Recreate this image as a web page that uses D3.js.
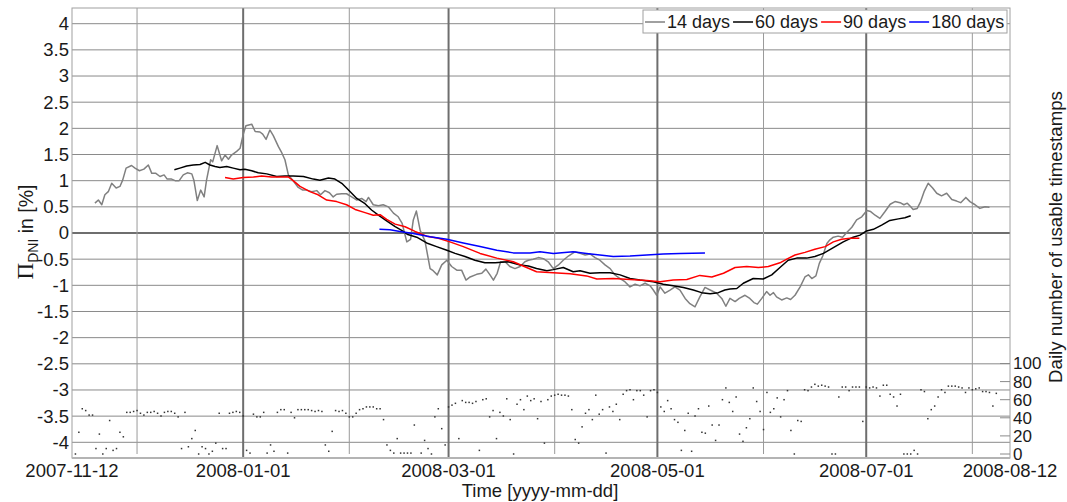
<!DOCTYPE html>
<html><head><meta charset="utf-8">
<script src="https://cdn.jsdelivr.net/npm/d3@7"></script>
<style>
html,body{margin:0;padding:0;background:#fff;}
svg{display:block;font-family:"Liberation Sans",Arial,sans-serif;}
</style></head>
<body><svg id="c" width="1067" height="502"></svg>
<script>
// ---------- data ----------
const startDate = "2007-11-12";
const endDate = "2008-08-12";
// [days since start, value %]
const series14 = [[6.7,0.57],[7.7,0.63],[8.7,0.54],[9.6,0.73],[10.6,0.79],[11.6,0.95],[12.9,0.86],[14.0,0.89],[14.8,1.01],[15.8,1.24],[17.4,1.29],[18.4,1.24],[19.7,1.19],[21.0,1.22],[22.3,1.30],[23.3,1.14],[24.5,1.14],[25.7,1.08],[26.9,1.11],[27.8,1.03],[29.1,1.03],[30.1,1.00],[31.3,1.00],[32.5,1.11],[33.7,1.15],[35.0,1.13],[35.6,1.01],[36.6,0.62],[37.6,0.82],[38.6,0.69],[39.3,1.01],[40.5,1.40],[41.1,1.36],[42.4,1.67],[43.7,1.38],[44.7,1.49],[45.7,1.41],[46.6,1.49],[48.1,1.56],[49.1,1.62],[50.0,1.88],[50.8,2.05],[52.5,2.08],[53.5,1.94],[54.9,1.93],[55.7,1.89],[56.7,1.79],[57.8,1.97],[58.8,1.86],[60.3,1.65],[61.3,1.53],[62.2,1.40],[63.2,1.11],[64.6,1.00],[66.1,0.87],[67.4,0.82],[68.6,0.82],[70.0,0.79],[71.5,0.81],[72.6,0.73],[73.9,0.81],[75.2,0.77],[76.3,0.69],[77.3,0.74],[78.8,0.75],[80.2,0.75],[81.7,0.69],[83.2,0.63],[84.6,0.66],[85.9,0.60],[86.6,0.68],[88.0,0.54],[89.5,0.52],[90.9,0.54],[92.4,0.50],[93.9,0.38],[95.3,0.31],[96.4,0.19],[97.8,-0.17],[98.9,-0.12],[99.7,0.25],[100.6,0.42],[101.7,0.05],[103.1,-0.15],[104.6,-0.68],[105.5,-0.72],[106.7,-0.80],[108.0,-0.61],[109.5,-0.52],[110.9,-0.64],[112.4,-0.71],[113.8,-0.71],[115.1,-0.90],[116.3,-0.84],[118.2,-0.79],[119.7,-0.77],[120.9,-0.69],[122.1,-0.80],[123.1,-0.90],[124.2,-0.77],[125.2,-0.55],[126.5,-0.55],[127.9,-0.64],[129.4,-0.68],[130.9,-0.64],[132.3,-0.55],[133.3,-0.52],[134.7,-0.50],[136.2,-0.47],[137.7,-0.49],[139.1,-0.55],[140.6,-0.68],[142.1,-0.61],[143.5,-0.52],[145.0,-0.44],[146.9,-0.36],[148.4,-0.39],[149.9,-0.42],[151.3,-0.40],[152.8,-0.47],[154.2,-0.52],[155.7,-0.61],[157.2,-0.68],[158.6,-0.80],[160.1,-0.87],[161.5,-0.93],[163.0,-1.03],[164.5,-0.98],[165.9,-1.01],[167.4,-0.96],[168.9,-1.01],[169.8,-1.09],[170.8,-1.19],[171.8,-1.03],[173.2,-1.15],[174.7,-1.09],[176.1,-1.03],[177.6,-1.09],[179.1,-1.25],[180.5,-1.35],[182.0,-1.41],[183.4,-1.22],[184.9,-1.04],[186.4,-1.09],[188.3,-1.15],[189.8,-1.25],[191.0,-1.40],[192.2,-1.25],[193.7,-1.31],[194.9,-1.25],[196.6,-1.19],[198.0,-1.25],[199.2,-1.33],[200.2,-1.36],[201.5,-1.25],[202.9,-1.12],[203.9,-1.19],[204.9,-1.14],[205.8,-1.22],[207.3,-1.28],[208.8,-1.24],[209.9,-1.27],[211.2,-1.19],[212.7,-1.03],[214.1,-0.84],[215.1,-0.80],[216.1,-0.87],[217.3,-0.82],[218.3,-0.58],[219.3,-0.44],[220.5,-0.20],[221.4,-0.13],[222.4,-0.08],[223.8,-0.06],[225.1,-0.08],[226.3,0.01],[227.8,0.11],[229.2,0.25],[230.7,0.31],[232.2,0.43],[233.3,0.41],[234.6,0.34],[236.0,0.28],[237.5,0.41],[239.0,0.55],[240.4,0.60],[241.9,0.58],[243.0,0.54],[244.0,0.57],[245.0,0.50],[245.7,0.45],[246.9,0.47],[247.9,0.60],[248.9,0.79],[250.1,0.95],[251.4,0.86],[252.6,0.76],[254.0,0.71],[255.5,0.76],[257.0,0.64],[258.4,0.61],[259.6,0.58],[261.1,0.68],[262.3,0.60],[263.8,0.54],[265.2,0.47],[266.7,0.50],[268.0,0.49]];
const series60 = [[29.9,1.21],[31.5,1.24],[33.5,1.28],[35.4,1.30],[37.4,1.31],[38.9,1.35],[40.3,1.30],[41.8,1.27],[43.2,1.25],[45.2,1.27],[47.1,1.24],[49.1,1.21],[50.5,1.22],[52.5,1.19],[54.4,1.15],[56.9,1.13],[59.8,1.08],[62.2,1.09],[64.6,1.09],[67.6,1.08],[70.5,1.03],[72.4,1.01],[74.9,1.05],[76.8,1.03],[78.8,0.95],[80.2,0.86],[81.7,0.76],[83.2,0.66],[85.6,0.56],[87.5,0.44],[89.5,0.34],[91.9,0.23],[94.4,0.12],[96.3,0.05],[98.1,-0.03],[100.7,-0.08],[103.6,-0.19],[106.5,-0.26],[109.5,-0.33],[111.9,-0.39],[114.8,-0.45],[117.7,-0.52],[120.6,-0.57],[123.6,-0.57],[127.4,-0.55],[130.9,-0.61],[133.3,-0.63],[135.7,-0.68],[138.7,-0.72],[140.6,-0.70],[143.5,-0.66],[146.4,-0.74],[148.4,-0.72],[151.3,-0.77],[154.2,-0.76],[157.2,-0.76],[160.1,-0.80],[163.0,-0.87],[165.9,-0.90],[169.8,-0.93],[172.7,-0.98],[175.6,-1.01],[178.6,-1.04],[181.5,-1.09],[183.9,-1.14],[186.4,-1.16],[188.8,-1.14],[190.7,-1.09],[192.2,-1.07],[194.2,-1.06],[196.1,-0.96],[199.0,-0.87],[201.9,-0.88],[204.4,-0.80],[206.8,-0.66],[209.2,-0.52],[211.7,-0.48],[214.6,-0.48],[217.0,-0.45],[219.5,-0.39],[222.4,-0.28],[225.3,-0.17],[228.2,-0.08],[230.2,-0.04],[232.1,0.04],[234.1,0.07],[236.5,0.15],[238.9,0.24],[241.4,0.27],[243.3,0.29],[245.0,0.33]];
const series90 = [[44.7,1.06],[47.1,1.03],[50.0,1.06],[53.0,1.07],[55.4,1.09],[58.3,1.07],[60.8,1.07],[63.2,1.07],[64.6,1.00],[66.6,0.89],[69.5,0.79],[71.9,0.73],[74.4,0.63],[77.3,0.60],[80.2,0.54],[82.7,0.45],[85.6,0.39],[88.0,0.34],[90.0,0.35],[91.9,0.26],[94.4,0.17],[97.3,0.12],[100.2,0.03],[103.6,-0.06],[107.0,-0.10],[110.4,-0.17],[114.3,-0.26],[119.2,-0.39],[124.1,-0.48],[128.9,-0.55],[132.8,-0.66],[135.7,-0.74],[140.6,-0.76],[145.5,-0.78],[150.3,-0.82],[153.3,-0.88],[158.1,-0.87],[163.0,-0.89],[167.9,-0.91],[171.8,-0.93],[175.6,-0.90],[179.6,-0.89],[183.4,-0.81],[186.9,-0.84],[190.3,-0.77],[193.7,-0.66],[197.1,-0.64],[200.5,-0.66],[203.4,-0.64],[206.8,-0.57],[208.8,-0.50],[211.2,-0.42],[214.1,-0.37],[217.0,-0.31],[220.0,-0.26],[222.4,-0.17],[224.8,-0.12],[227.3,-0.10],[230.0,-0.10]];
const series180 = [[89.8,0.07],[92.9,0.06],[95.8,0.03],[99.7,-0.01],[104.6,-0.07],[109.5,-0.12],[114.3,-0.19],[119.2,-0.26],[124.1,-0.33],[128.9,-0.38],[133.8,-0.38],[136.7,-0.36],[140.6,-0.39],[146.4,-0.36],[150.3,-0.39],[154.2,-0.42],[158.1,-0.45],[163.0,-0.44],[167.9,-0.42],[172.7,-0.40],[177.6,-0.39],[184.9,-0.38]];
// daily number of usable timestamps, day 1 = 2007-11-13 (null = no value)
const dailyCounts = [0,24,50,48,43,43,6,22,0,6,37,4,6,24,19,46,46,47,48,45,43,46,46,47,45,42,46,47,47,45,41,6,46,8,17,26,0,8,6,0,3,12,45,6,6,45,46,47,46,42,4,1,44,41,41,46,1,10,3,46,49,49,1,46,40,49,49,49,49,48,47,48,47,10,3,25,48,47,48,45,41,41,45,49,50,52,52,52,50,50,38,10,4,1,17,1,1,1,1,32,null,1,15,6,0,41,50,28,10,52,54,56,17,59,57,57,56,58,4,60,61,41,48,17,46,42,61,38,0,55,60,49,64,59,61,39,58,12,60,64,65,66,65,65,64,49,16,12,30,45,49,38,65,44,49,1,52,47,55,38,66,70,71,60,70,70,65,41,70,71,68,52,47,59,50,38,35,4,26,45,3,42,50,24,23,53,32,15,32,60,73,57,47,63,22,14,29,39,73,58,47,27,68,46,50,62,41,60,70,26,0,37,36,71,70,74,77,75,76,75,74,0,0,63,74,74,70,74,74,74,36,74,73,74,73,64,76,76,66,63,53,66,0,0,0,4,0,71,69,39,49,53,63,71,68,75,75,75,74,73,68,73,71,72,73,69,69,68,53,67];

const xTickLabels = ["2007-11-12","2008-01-01","2008-03-01","2008-05-01","2008-07-01","2008-08-12"];
const xMajorGrid = ["2008-01-01","2008-03-01","2008-05-01","2008-07-01"];
const xMinorGrid = ["2007-12-01","2008-02-01","2008-04-01","2008-06-01","2008-08-01"];
const yTicks = [-4,-3.5,-3,-2.5,-2,-1.5,-1,-0.5,0,0.5,1,1.5,2,2.5,3,3.5,4];
const yRightTicks = [0,20,40,60,80,100];
const legendLabels = ["14 days","60 days","90 days","180 days"];
const seriesColors = ["#808080","#000000","#ff0000","#0000ff"];

// ---------- layout ----------
const L = 72, R = 1010, T = 8, B = 458;
const FS = 18.5;
const parse = d3.utcParse("%Y-%m-%d");
const t0 = parse(startDate);
const dayToDate = d => new Date(t0.getTime() + d * 864e5);

const x = d3.scaleUtc().domain([t0, parse(endDate)]).range([L, R]);
const y = d3.scaleLinear().domain([-4.3, 4.3]).range([B, T]);
const yR = d3.scaleLinear().domain([0, 100]).range([454, 363.5]);

const svg = d3.select("#c");
const g = svg.append("g");

// horizontal grid
g.append("g").selectAll("line").data(yTicks).join("line")
  .attr("x1", L).attr("x2", R)
  .attr("y1", d => y(d)).attr("y2", d => y(d))
  .attr("stroke", d => d === 0 ? "#6e6e6e" : "#8a8a8a")
  .attr("stroke-width", d => d === 0 ? 2 : 1);

// vertical grid
g.append("g").selectAll("line").data(xMinorGrid.map(parse)).join("line")
  .attr("x1", d => x(d)).attr("x2", d => x(d))
  .attr("y1", T).attr("y2", B - 4)
  .attr("stroke", "#9a9a9a").attr("stroke-width", 1);
g.append("g").selectAll("line").data(xMajorGrid.map(parse)).join("line")
  .attr("x1", d => x(d)).attr("x2", d => x(d))
  .attr("y1", T).attr("y2", B)
  .attr("stroke", "#6e6e6e").attr("stroke-width", 2);

// frame
g.append("rect").attr("x", L).attr("y", T).attr("width", R - L).attr("height", B - T)
  .attr("fill", "none").attr("stroke", "#a0a0a0").attr("stroke-width", 1);
g.append("line").attr("x1", L).attr("x2", R).attr("y1", B).attr("y2", B)
  .attr("stroke", "#b4b4b4").attr("stroke-width", 2);

// dots
const dots = dailyCounts.map((v, i) => ({d: i + 1, v})).filter(o => o.v !== null);
g.append("g").selectAll("rect").data(dots).join("rect")
  .attr("x", o => x(dayToDate(o.d)) - 0.75)
  .attr("y", o => yR(o.v) - 0.75)
  .attr("width", 1.5).attr("height", 1.5)
  .attr("fill", "#333");

// lines
const line = d3.line().x(p => x(dayToDate(p[0]))).y(p => y(p[1]));
[series14, series60, series90, series180].forEach((s, i) => {
  g.append("path").datum(s).attr("d", line)
    .attr("fill", "none").attr("stroke", seriesColors[i])
    .attr("stroke-width", 1.5).attr("stroke-linejoin", "round");
});

// left y tick labels
g.append("g").selectAll("text").data(yTicks).join("text")
  .attr("x", L - 3).attr("y", d => y(d)).attr("dy", "0.35em")
  .attr("text-anchor", "end").attr("font-size", FS).attr("fill", "#1a1a1a")
  .text(d => String(d));

// right ticks
g.append("g").selectAll("line").data(yRightTicks).join("line")
  .attr("x1", R - 10).attr("x2", R).attr("y1", d => yR(d)).attr("y2", d => yR(d))
  .attr("stroke", "#8a8a8a");
g.append("g").selectAll("text").data(yRightTicks).join("text")
  .attr("x", R + 3).attr("y", d => yR(d)).attr("dy", "0.35em")
  .attr("text-anchor", "start").attr("font-size", 17).attr("fill", "#1a1a1a")
  .text(d => String(d));

// x tick labels
g.append("g").selectAll("text").data(xTickLabels).join("text")
  .attr("x", d => x(parse(d))).attr("y", 477)
  .attr("text-anchor", "middle").attr("font-size", FS).attr("fill", "#1a1a1a")
  .text(d => d);

// axis titles
g.append("text").attr("x", 540).attr("y", 497).attr("text-anchor", "middle")
  .attr("font-size", FS).attr("fill", "#1a1a1a").text("Time [yyyy-mm-dd]");

const yl = g.append("text").attr("transform", "translate(33,232) rotate(-90)")
  .attr("text-anchor", "middle").attr("font-size", 19.5).attr("fill", "#1a1a1a");
yl.append("tspan").attr("font-family", "'Liberation Serif','DejaVu Serif',serif").attr("font-size", 23).text("Π");
yl.append("tspan").attr("font-size", 14).attr("dy", 5).text("DNI");
yl.append("tspan").attr("dy", -5).text(" in [%]");

g.append("text").attr("transform", "translate(1062,237) rotate(-90)")
  .attr("text-anchor", "middle").attr("font-size", 18.7).attr("fill", "#1a1a1a")
  .text("Daily number of usable timestamps");

// legend
const lg = g.append("g");
lg.append("rect").attr("x", 643).attr("y", 10).attr("width", 364).attr("height", 23)
  .attr("fill", "#fff").attr("stroke", "#a0a0a0");
let cx = 645;
legendLabels.forEach((lab, i) => {
  lg.append("line").attr("x1", cx).attr("x2", cx + 20).attr("y1", 22).attr("y2", 22)
    .attr("stroke", seriesColors[i]).attr("stroke-width", 1.5);
  const t = lg.append("text").attr("x", cx + 22).attr("y", 22).attr("dy", "0.35em")
    .attr("font-size", 18).attr("fill", "#1a1a1a").text(lab);
  cx += 22 + t.node().getComputedTextLength() + 3;
});
</script></body></html>
